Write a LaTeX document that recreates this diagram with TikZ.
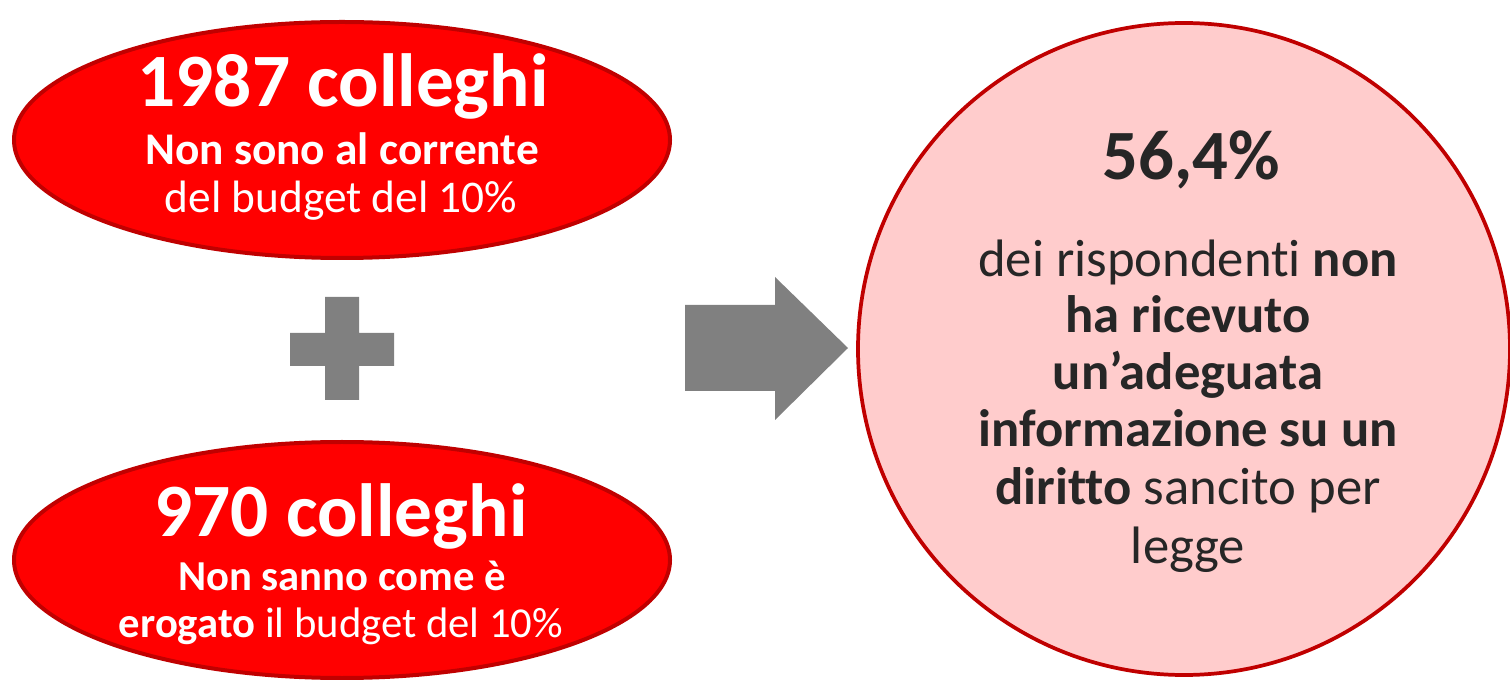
\documentclass[tikz,border=0pt]{standalone}
\usepackage{fontspec}
\setmainfont[Ligatures={NoCommon}]{Carlito}
\usetikzlibrary{shapes.geometric}
\definecolor{dkred}{HTML}{C00000}
\definecolor{brightred}{HTML}{FF0000}
\definecolor{pinkfill}{HTML}{FFCCCC}
\definecolor{shapegray}{HTML}{808080}
\definecolor{txtdark}{HTML}{262626}
\tikzset{
  oval/.style={ellipse, draw=dkred, line width=3pt, fill=brightred, minimum width=492pt, minimum height=177pt, inner sep=0pt},
  bigcircle/.style={circle, draw=dkred, line width=2.8pt, fill=pinkfill, minimum size=489pt, inner sep=0pt},
  whitebig/.style={anchor=base, text=white, font=\fontsize{56.5}{66}\selectfont\bfseries, inner sep=0pt},
  whitesmall/.style={anchor=base, text=white, font=\fontsize{34}{40}\selectfont, inner sep=0pt},
  whitesmaller/.style={anchor=base, text=white, font=\fontsize{32}{40}\selectfont, inner sep=0pt},
  darkbig/.style={anchor=base, text=txtdark, font=\fontsize{53}{62}\selectfont\bfseries, inner sep=0pt},
  darksmall/.style={anchor=base, text=txtdark, font=\fontsize{39.5}{47}\selectfont, inner sep=0pt},
  grayshape/.style={fill=shapegray, draw=none}
}
\begin{document}
\begin{tikzpicture}[x=0.75pt,y=-0.75pt]
\useasboundingbox (0,0) rectangle (1510,680);
% ellipses
\node[oval] (e1) at (342,140) {};
\node[oval] (e2) at (342,560) {};
% circle
\node[bigcircle] (c) at (1184,349) {};
% plus
\path[grayshape] (325,297) -- (359,297) -- (359,333) -- (394,333) -- (394,366) -- (359,366) -- (359,400) -- (325,400) -- (325,366) -- (290,366) -- (290,333) -- (325,333) -- cycle;
% block arrow
\path[grayshape] (685,305) -- (775,305) -- (775,277) -- (848,348) -- (775,420) -- (775,391) -- (685,391) -- cycle;
% top ellipse text
\node[whitebig] (t1a) at (343,107) {1987 colleghi};
\node[whitesmall] (t1b) at (342,165) {\bfseries Non sono al corrente};
\node[whitesmall] (t1c) at (341,213) {del budget del 10\%};
% bottom ellipse text
\node[whitebig] (t2a) at (341,537) {970 colleghi};
\node[whitesmaller] (t2b) at (342,590) {\bfseries Non sanno come è};
\node[whitesmaller] (t2c) at (341,637) {\textbf{erogato} il budget del 10\%};
% circle text
\node[darkbig] (c0) at (1191,180) {56,4\%};
\node[darksmall] (c1) at (1188,277) {dei rispondenti \textbf{non}};
\node[darksmall] (c2) at (1188,333) {\textbf{ha ricevuto}};
\node[darksmall] (c3) at (1188,390) {\textbf{un’adeguata}};
\node[darksmall] (c4) at (1188,447) {\textbf{informazione su un}};
\node[darksmall] (c5) at (1188,505) {\textbf{diritto} sancito per};
\node[darksmall] (c6) at (1188,563) {legge};
\end{tikzpicture}
\end{document}
